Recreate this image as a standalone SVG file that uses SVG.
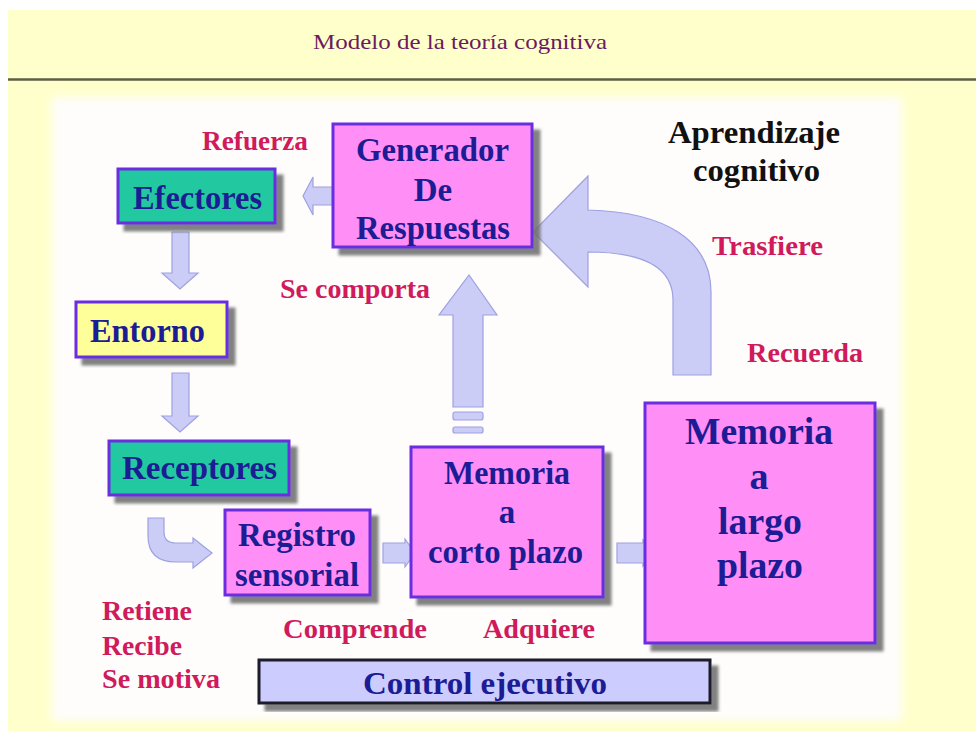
<svg xmlns="http://www.w3.org/2000/svg" width="976" height="731" viewBox="0 0 976 731">
<defs>
<filter id="sh" x="-10%" y="-10%" width="130%" height="130%">
<feGaussianBlur in="SourceAlpha" stdDeviation="1.5" result="b"/>
<feOffset dx="7" dy="7" result="o"/>
<feFlood flood-color="#6b6b6b" flood-opacity="0.85"/>
<feComposite in2="o" operator="in" result="s"/>
<feMerge><feMergeNode in="s"/><feMergeNode in="SourceGraphic"/></feMerge>
</filter>
<filter id="soft" x="-5%" y="-5%" width="110%" height="110%">
<feGaussianBlur stdDeviation="4"/>
</filter>
</defs>
<style>
.box{stroke:#6a2ee0;stroke-width:3}
.pink{fill:#ff8ff7}
.teal{fill:#20c9a0}
.yel{fill:#ffff99}
.ctl{fill:#ccccff;stroke:#1a1a2a;stroke-width:3}
.nt{font-family:"Liberation Serif",serif;font-weight:bold;fill:#1c1c94}
.lb{font-family:"Liberation Serif",serif;font-weight:bold;fill:#d01a5c;font-size:27px}
.arr{fill:#cbcdf6;stroke:#9ea1e2;stroke-width:1.2}
</style>
<rect x="0" y="0" width="976" height="731" fill="#ffffff"/>
<rect x="8" y="10" width="968" height="721" fill="#ffffcc"/>
<text x="313" y="49" textLength="294" lengthAdjust="spacingAndGlyphs" font-family="Liberation Serif, serif" font-size="22" fill="#6b1a5e">Modelo de la teoría cognitiva</text>
<line x1="8" y1="79.5" x2="976" y2="79.5" stroke="#5e5e48" stroke-width="2.5"/>
<rect x="52" y="97" width="850" height="624" fill="#fefdfb" filter="url(#soft)"/>

<g id="connectors">
<polygon class="arr" points="340,187 313,187 313,177 303,196 313,215 313,205 340,205"/>
<polygon class="arr" points="172,232 189,232 189,273 198,273 180,289 162,273 172,273"/>
<polygon class="arr" points="172,373 189,373 189,416 198,416 180,432 162,416 172,416"/>
<path class="arr" d="M148,518 L164,518 L164,532 Q164,543 176,543 L193,543 L193,538 L212,553 L193,568 L193,562 L176,562 Q148,562 148,536 Z"/>
<polygon class="arr" points="383,543 405,543 405,539 415,553 405,567 405,563 383,563"/>
<polygon class="arr" points="617,543 643,543 643,540 653,553 643,566 643,563 617,563"/>
<polygon class="arr" points="453,407 453,315 439,315 469,275 497,315 483,315 483,407"/>
<rect class="arr" x="453" y="412" width="30" height="8" rx="2"/>
<rect class="arr" x="453" y="427" width="30" height="6" rx="2"/>
<path class="arr" d="M711,375 L711,292 C711,240 665,212 588,210 L588,176 L533,232 L588,287 L588,252 C645,252 673,268 673,300 L673,375 Z"/>
</g>

<g id="generador">
<rect class="box pink" x="333" y="124" width="199" height="123" filter="url(#sh)"/>
<text class="nt" font-size="33" x="356" y="161" textLength="153" lengthAdjust="spacingAndGlyphs">Generador</text>
<text class="nt" font-size="33" x="433" y="201" text-anchor="middle">De</text>
<text class="nt" font-size="33" x="356" y="239" textLength="154" lengthAdjust="spacingAndGlyphs">Respuestas</text>
</g>
<g id="efectores">
<rect class="box teal" x="118" y="169" width="157" height="54" filter="url(#sh)"/>
<text class="nt" font-size="33" x="133" y="209" textLength="129" lengthAdjust="spacingAndGlyphs">Efectores</text>
</g>
<g id="entorno">
<rect class="box yel" x="76" y="302" width="151" height="55" filter="url(#sh)"/>
<text class="nt" font-size="33" x="90" y="342" textLength="115" lengthAdjust="spacingAndGlyphs">Entorno</text>
</g>
<g id="receptores">
<rect class="box teal" x="109" y="441" width="180" height="54" filter="url(#sh)"/>
<text class="nt" font-size="33" x="122" y="479" textLength="155" lengthAdjust="spacingAndGlyphs">Receptores</text>
</g>
<g id="registro">
<rect class="box pink" x="225" y="510" width="145" height="85" filter="url(#sh)"/>
<text class="nt" font-size="33" x="238" y="546" textLength="118" lengthAdjust="spacingAndGlyphs">Registro</text>
<text class="nt" font-size="33" x="235" y="586" textLength="124" lengthAdjust="spacingAndGlyphs">sensorial</text>
</g>
<g id="memoria-corto">
<rect class="box pink" x="411" y="447" width="192" height="150" filter="url(#sh)"/>
<text class="nt" font-size="33" x="444" y="484" textLength="126" lengthAdjust="spacingAndGlyphs">Memoria</text>
<text class="nt" font-size="33" x="507" y="523" text-anchor="middle">a</text>
<text class="nt" font-size="33" x="428" y="563" textLength="155" lengthAdjust="spacingAndGlyphs">corto plazo</text>
</g>
<g id="memoria-largo">
<rect class="box pink" x="645" y="403" width="230" height="240" filter="url(#sh)"/>
<text class="nt" font-size="38" x="685" y="444" textLength="148" lengthAdjust="spacingAndGlyphs">Memoria</text>
<text class="nt" font-size="38" x="759" y="489" text-anchor="middle">a</text>
<text class="nt" font-size="38" x="718" y="534" textLength="84" lengthAdjust="spacingAndGlyphs">largo</text>
<text class="nt" font-size="38" x="717" y="578" textLength="86" lengthAdjust="spacingAndGlyphs">plazo</text>
</g>
<g id="control">
<rect class="ctl" x="259" y="660" width="451" height="43" filter="url(#sh)"/>
<text class="nt" font-size="32" x="363" y="694" textLength="244" lengthAdjust="spacingAndGlyphs">Control ejecutivo</text>
</g>

<g id="labels">
<text class="lb" x="202" y="150" textLength="106" lengthAdjust="spacingAndGlyphs">Refuerza</text>
<text class="lb" x="280" y="298" textLength="150" lengthAdjust="spacingAndGlyphs">Se comporta</text>
<text class="lb" x="712" y="255" textLength="111" lengthAdjust="spacingAndGlyphs">Trasfiere</text>
<text class="lb" x="747" y="362" textLength="116" lengthAdjust="spacingAndGlyphs">Recuerda</text>
<text class="lb" x="102" y="620" textLength="90" lengthAdjust="spacingAndGlyphs">Retiene</text>
<text class="lb" x="102" y="655" textLength="80" lengthAdjust="spacingAndGlyphs">Recibe</text>
<text class="lb" x="102" y="688" textLength="118" lengthAdjust="spacingAndGlyphs">Se motiva</text>
<text class="lb" x="283" y="638" textLength="144" lengthAdjust="spacingAndGlyphs">Comprende</text>
<text class="lb" x="483" y="638" textLength="112" lengthAdjust="spacingAndGlyphs">Adquiere</text>
<text font-family="Liberation Serif, serif" font-weight="bold" font-size="31" fill="#111111" x="668" y="143" textLength="172" lengthAdjust="spacingAndGlyphs">Aprendizaje</text>
<text font-family="Liberation Serif, serif" font-weight="bold" font-size="31" fill="#111111" x="693" y="181" textLength="127" lengthAdjust="spacingAndGlyphs">cognitivo</text>
</g>
</svg>
